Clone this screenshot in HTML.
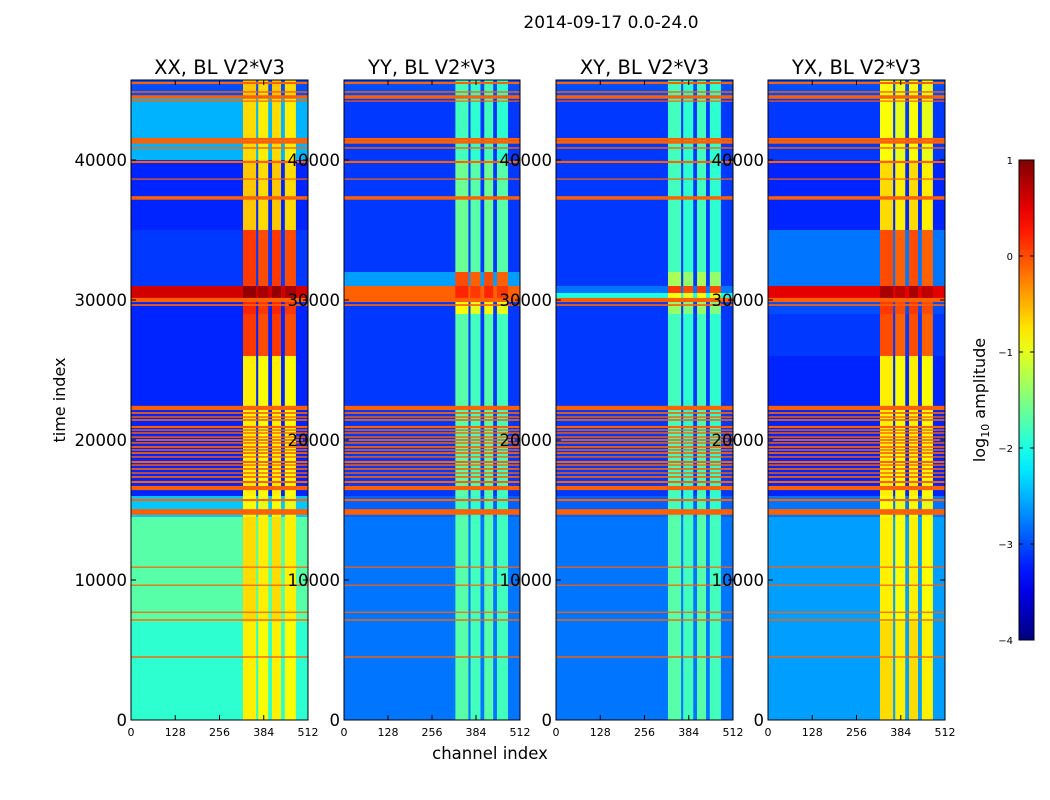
<!DOCTYPE html>
<html><head><meta charset="utf-8">
<style>
body{margin:0;background:#fff;width:1050px;height:800px;overflow:hidden;font-family:"Liberation Sans","DejaVu Sans",sans-serif;}
svg{display:block}
text{font-family:"DejaVu Sans","Liberation Sans",sans-serif;fill:#000}
</style></head>
<body>
<svg id="fig" width="1050" height="800" xmlns="http://www.w3.org/2000/svg">
<text x="611" y="28" font-size="17" text-anchor="middle">2014-09-17 0.0-24.0</text>
<text x="490" y="759" font-size="16.5" text-anchor="middle">channel index</text>
<text x="65" y="400" font-size="16" text-anchor="middle" transform="rotate(-90 65 400)">time index</text>
<g id="panels"></g>
<g id="cbar"></g>
<text x="985" y="400" font-size="16" text-anchor="middle" transform="rotate(-90 985 400)">log<tspan font-size="11" dy="4">10</tspan><tspan dy="-4"> amplitude</tspan></text>
</svg>
<script>
// ---- data ----
const panelTitles = ["XX, BL V2*V3","YY, BL V2*V3","XY, BL V2*V3","YX, BL V2*V3"];
const xTicks = [0,128,256,384,512];
const yTicks = [0,10000,20000,30000,40000];
const cbTicks = [1,0,-1,-2,-3,-4];
// vertical bands (channel ranges)
const bandStarts = [324,368,408,445];
const bandEnds   = [362,397,434,477];
// RFI stripes: time index and thickness
const stripeTimes = [45500,44860,44500,44210,41500,41290,40860,39860,38640,37290,30000,29640,22290,21930,21640,21430,20930,20710,20500,20210,20000,19790,19500,19290,19070,18790,18430,18210,17930,17640,17360,17000,16570,15710,14860,10930,9640,7710,7140,4500];
const stripeWidths= [150,100,250,80,150,250,100,150,80,250,300,120,300,120,100,120,150,100,100,100,120,100,120,100,120,100,150,100,120,100,120,150,300,150,400,60,60,60,100,100];
// per-panel time segments: start, end, background log10 level, band log10 level
const segStart = [
 [0,7000,14500,16000,26000,29000,30000,31000,35000,40000,44500],
 [0,14500,16000,29000,30000,31000,32000,40000,44500],
 [0,14500,16000,29000,30000,30500,31000,32000,40000,44500],
 [0,7000,14500,16000,26000,29000,30000,31000,35000,40000,44500]];
const segEnd = [
 [7000,14500,16000,26000,29000,30000,31000,35000,40000,44500,45700],
 [14500,16000,29000,30000,31000,32000,40000,44500,45700],
 [14500,16000,29000,30000,30500,31000,32000,40000,44500,45700],
 [7000,14500,16000,26000,29000,30000,31000,35000,40000,44500,45700]];
const segBg = [
 [-1.9,-1.7,-2.4,-3.2,-3.2,-3.2,0.6,-3.1,-3.2,-2.5,-3.0],
 [-2.8,-2.9,-3.1,-3.1,-0.1,-2.6,-3.1,-3.1,-3.0],
 [-2.8,-2.9,-3.1,-3.1,-2.0,-2.8,-3.1,-3.1,-3.1,-3.0],
 [-2.6,-2.6,-2.8,-3.2,-3.1,-3.0,0.5,-2.8,-3.2,-3.1,-3.0]];
const segBand = [
 [-0.8,-0.7,-0.9,-0.8,0.1,0.2,0.9,0.1,-0.6,-0.7,-0.6],
 [-1.7,-1.8,-1.7,-0.9,0.2,0.0,-1.6,-1.8,-1.8],
 [-1.7,-1.8,-1.8,-1.4,-0.9,0.1,-1.3,-1.8,-1.8,-1.8],
 [-0.7,-0.8,-0.9,-0.8,0.0,0.1,0.8,0.0,-0.7,-0.9,-0.9]];
const stripeLevel = -0.1;
// ---- layout ----
const panelX0 = [131,344,556,768], panelW = [177,176,177,177];
const plotTop = 80, plotBot = 720, tMax = 45714, chMax = 512;
const NS = "http://www.w3.org/2000/svg";
function jet(v){
  let t = Math.max(0,Math.min(1,(v+4)/5));
  const f = x => Math.round(255*Math.max(0,Math.min(1,1.5-Math.abs(4*t-x))));
  return `rgb(${f(3)},${f(2)},${f(1)})`;
}
function yScale(t){return plotBot - (t/tMax)*(plotBot-plotTop);}
function mk(tag,attrs,parent){const e=document.createElementNS(NS,tag);for(const k in attrs)e.setAttribute(k,attrs[k]);parent.appendChild(e);return e;}
const G = document.getElementById('panels');
for(let p=0;p<4;p++){
  const x0 = panelX0[p], w = panelW[p];
  const xs = c => x0 + c/chMax*w;
  const g = mk('g',{},G);
  
  
  for(let s=0;s<segStart[p].length;s++){
    const y1 = yScale(segEnd[p][s]), y2 = yScale(segStart[p][s]);
    const r = mk('rect',{x:x0,y:y1,width:w,height:y2-y1,fill:jet(segBg[p][s])},g);
    
    
    for(let b=0;b<bandStarts.length;b++){
      const br = mk('rect',{x:xs(bandStarts[b]),y:y1,width:xs(bandEnds[b])-xs(bandStarts[b]),height:y2-y1,fill:jet(segBand[p][s]-(b%2)*0.1)},g);
      
      
    }
  }
  for(let i=0;i<stripeTimes.length;i++){
    const y1 = yScale(stripeTimes[i]+stripeWidths[i]/2), y2 = yScale(stripeTimes[i]-stripeWidths[i]/2);
    const sr = mk('rect',{x:x0,y:y1,width:w,height:Math.max(1.2,y2-y1),fill:jet(stripeLevel)},g);
    
    
  }
  const fr = mk('rect',{x:x0,y:plotTop,width:w,height:plotBot-plotTop,fill:'none',stroke:'#000','stroke-width':1},g);
  
  
  const tt = mk('text',{x:x0+w/2,y:74,'font-size':19.5,'text-anchor':'middle'},g);
  tt.textContent = panelTitles[p];
  
  
  for(const c of xTicks){
    const X = xs(c);
    mk('line',{x1:X,x2:X,y1:plotBot,y2:plotBot-5,stroke:'#000'},g);
    mk('line',{x1:X,x2:X,y1:plotTop,y2:plotTop+5,stroke:'#000'},g);
    const tl = mk('text',{x:X,y:736,'font-size':11,'text-anchor':'middle'},g);
    tl.textContent = c;
    
    
  }
  for(const t of yTicks){
    const Y = yScale(t);
    mk('line',{x1:x0,x2:x0+5,y1:Y,y2:Y,stroke:'#000'},g);
    mk('line',{x1:x0+w,x2:x0+w-5,y1:Y,y2:Y,stroke:'#000'},g);
    const yl = mk('text',{x:x0-4,y:Y+6,'font-size':16.5,'text-anchor':'end'},g);
    yl.textContent = t;
    
    
  }
}
// colorbar
const C = document.getElementById('cbar');
const cbX=1019, cbW=15, cbTop=160, cbBot=640;
const defs = mk('defs',{},C);
const lg = mk('linearGradient',{id:'jetg',x1:0,y1:1,x2:0,y2:0},defs);
for(let i=0;i<=20;i++){mk('stop',{offset:i/20,'stop-color':jet(-4+5*i/20)},lg);}
mk('rect',{x:cbX,y:cbTop,width:cbW,height:cbBot-cbTop,fill:'url(#jetg)',stroke:'#000'},C);
for(const v of cbTicks){
  const Y = cbBot - (v+4)/5*(cbBot-cbTop);
  mk('line',{x1:cbX,x2:cbX+4,y1:Y,y2:Y,stroke:'#000'},C);
  mk('line',{x1:cbX+cbW,x2:cbX+cbW-4,y1:Y,y2:Y,stroke:'#000'},C);
  const cl = mk('text',{x:cbX-6,y:Y+4,'font-size':10,'text-anchor':'end'},C);
  cl.textContent = String(v).replace('-','\u2212');
  
  
}
</script>
</body></html>
